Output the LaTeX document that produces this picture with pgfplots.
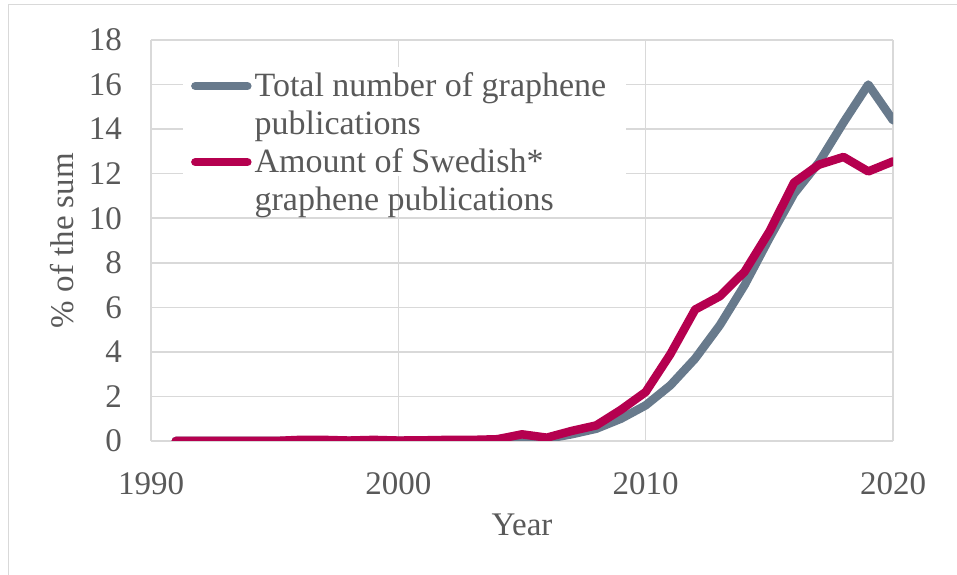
\documentclass[border=0pt]{standalone}
\usepackage{fontspec}
\setmainfont{Liberation Serif}
\usepackage{pgfplots}
\pgfplotsset{compat=1.18}
\definecolor{totc}{RGB}{104,122,140}
\definecolor{swec}{RGB}{181,0,79}
\definecolor{gridc}{RGB}{217,217,217}
\definecolor{txtc}{RGB}{89,89,89}
\newcommand{\lgtwo}[2]{\begin{tabular}[t]{@{}l@{\hspace{12bp}}}#1\\#2\end{tabular}}
\begin{document}
\begin{tikzpicture}
\useasboundingbox (0,0) rectangle (957bp,575bp);
\draw[gridc, line width=1bp] (8.5bp,0) -- (8.5bp,570.5bp) -- (957bp,570.5bp);
\begin{axis}[
  at={(151bp,134bp)}, anchor=south west,
  scale only axis, width=742bp, height=401bp,
  xmin=1990, xmax=2020, ymin=0, ymax=18,
  xtick={1990,2000,2010,2020}, ytick={0,2,...,18},
  /pgf/number format/1000 sep={},
  /pgf/number format/assume math mode=true,
  font=\fontsize{33bp}{38bp}\selectfont,
  tick label style={text=txtc},
  major tick length=0pt,
  xmajorgrids, ymajorgrids,
  grid style={gridc, line width=1.5bp},
  axis line style={draw=none},
  axis x line*=bottom,
  axis y line*=left,
  yticklabel style={inner sep=0pt, xshift=-29bp},
  xticklabel style={inner sep=0pt, yshift=-31bp},
  xlabel={Year}, ylabel={\% of the sum},
  label style={text=txtc},
  xlabel style={at={(axis description cs:0.5,0)}, anchor=center, yshift=-84bp},
  ylabel style={at={(axis description cs:0,0.5)}, anchor=center, rotate=0, yshift=89bp},
  legend style={at={(0.043,0.932)}, anchor=north west, draw=none, fill=white,
     inner xsep=8bp, inner ysep=2bp, row sep=48bp, column sep=3bp,
     cells={anchor=base west},
     nodes={text=txtc, inner sep=0pt, font=\fontsize{34bp}{38bp}\selectfont}},
  legend image code/.code={\draw[#1, line cap=round] (7bp,10bp) -- (59bp,10bp);},
  every axis plot/.append style={line width=8.5bp, line join=round, line cap=round},
]
\addplot[totc] coordinates {
(1991,0) (1992,0) (1993,0) (1994,0) (1995,0) (1996,0.01) (1997,0.01) (1998,0.01) (1999,0.01) (2000,0.01)
(2001,0.01) (2002,0.01) (2003,0.02) (2004,0.02) (2005,0.05) (2006,0.1) (2007,0.3) (2008,0.55) (2009,1.0) (2010,1.6)
(2011,2.5) (2012,3.7) (2013,5.2) (2014,7.0) (2015,9.1) (2016,11.1) (2017,12.5) (2018,14.3) (2019,16.0) (2020,14.4)
};
\addlegendentry{\lgtwo{Total number of graphene}{publications}}
\addplot[swec] coordinates {
(1991,0) (1992,0) (1993,0) (1994,0) (1995,0) (1996,0.05) (1997,0.05) (1998,0.02) (1999,0.05) (2000,0.02)
(2001,0.03) (2002,0.05) (2003,0.05) (2004,0.08) (2005,0.3) (2006,0.15) (2007,0.45) (2008,0.7) (2009,1.4) (2010,2.2)
(2011,3.9) (2012,5.9) (2013,6.5) (2014,7.6) (2015,9.4) (2016,11.6) (2017,12.4) (2018,12.75) (2019,12.1) (2020,12.55)
};
\addlegendentry{\lgtwo{Amount of Swedish*}{graphene publications}}
\end{axis}
\end{tikzpicture}
\end{document}
